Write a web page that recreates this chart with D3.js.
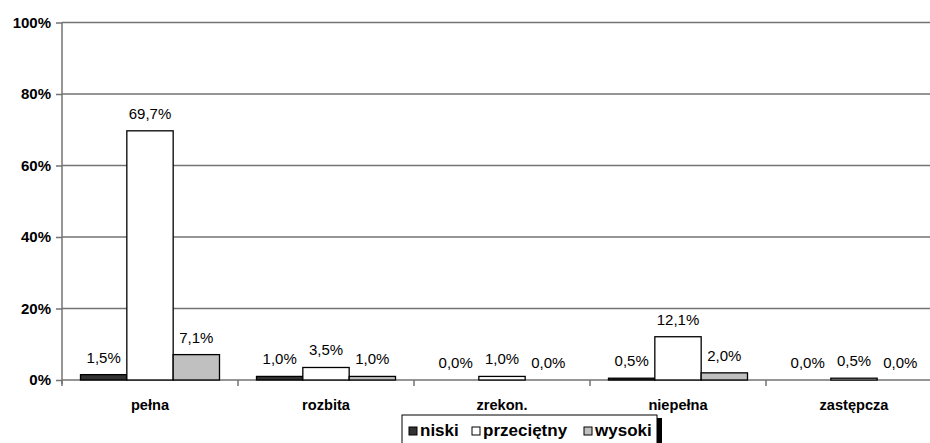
<!DOCTYPE html>
<html><head><meta charset="utf-8">
<script src="https://cdn.jsdelivr.net/npm/d3@7/dist/d3.min.js"></script>
<style>
html,body{margin:0;padding:0;background:#fff;}
svg{display:block;font-family:"Liberation Sans",Arial,sans-serif;}
</style></head>
<body>
<svg id="c" width="930" height="443"></svg>
<script>
const categories = ["pełna", "rozbita", "zrekon.", "niepełna", "zastępcza"];
const seriesNames = ["niski", "przeciętny", "wysoki"];
const niski = [1.5, 1.0, 0.0, 0.5, 0.0];
const przecietny = [69.7, 3.5, 1.0, 12.1, 0.5];
const wysoki = [7.1, 1.0, 0.0, 2.0, 0.0];
const yTicks = [0, 20, 40, 60, 80, 100];

const seriesValues = [niski, przecietny, wysoki];
const colors = ["#333333", "#ffffff", "#c0c0c0"];

const svg = d3.select("#c");
const plotLeft = 62, plotTop = 22.5, plotBottom = 380, bandW = 176;
const x = d3.scaleBand().domain(categories).range([plotLeft, plotLeft + bandW * categories.length]).padding(0);
const xs = d3.scaleBand().domain(seriesNames).range([18.5, bandW - 18.5]).padding(0);
const y = d3.scaleLinear().domain([0, 100]).range([plotBottom, plotTop]);

const loc = d3.formatLocale({decimal: ",", thousands: " ", grouping: [3], currency: ["", " zł"]});
const fmt = loc.format(".1f");

// gridlines
svg.append("g").selectAll("line").data(yTicks).join("line")
  .attr("x1", plotLeft).attr("x2", 930)
  .attr("y1", d => y(d)).attr("y2", d => y(d))
  .attr("stroke", "#737373").attr("stroke-width", 1.5);

// y axis
const yAxis = d3.axisLeft(y).tickValues(yTicks).tickFormat(d => d + "%").tickSize(6).tickPadding(5);
const gy = svg.append("g").attr("transform", `translate(${plotLeft},0)`).call(yAxis);
gy.select(".domain").attr("stroke", "#737373").attr("stroke-width", 1.5).attr("d", `M0,${plotTop}V${plotBottom + 4}`);
gy.selectAll(".tick line").attr("stroke", "#737373").attr("stroke-width", 1.5);
gy.selectAll(".tick text").attr("font-size", 15).attr("font-weight", "bold").attr("fill", "#000")
  .attr("font-family", '"Liberation Sans",Arial,sans-serif');

// x axis ticks (band boundaries)
const boundaries = categories.map(c => x(c)).concat([x(categories[categories.length - 1]) + bandW]);
svg.append("g").selectAll("line").data(boundaries).join("line")
  .attr("x1", d => d).attr("x2", d => d).attr("y1", plotBottom).attr("y2", plotBottom + 6)
  .attr("stroke", "#737373").attr("stroke-width", 1.5);

// category labels
svg.append("g").selectAll("text").data(categories).join("text")
  .attr("x", d => x(d) + bandW / 2).attr("y", 410)
  .attr("text-anchor", "middle").attr("font-size", 14.6).attr("font-weight", "bold")
  .text(d => d);

// bars
const data = [];
categories.forEach((c, i) => seriesNames.forEach((s, j) => data.push({c, s, j, v: seriesValues[j][i]})));

svg.append("g").selectAll("rect").data(data).join("rect")
  .attr("x", d => x(d.c) + xs(d.s))
  .attr("y", d => y(d.v))
  .attr("width", xs.bandwidth())
  .attr("height", d => y(0) - y(d.v))
  .attr("fill", d => colors[d.j])
  .attr("stroke", "#000").attr("stroke-width", 1.3);

// value labels
svg.append("g").selectAll("text").data(data).join("text")
  .attr("x", d => x(d.c) + xs(d.s) + xs.bandwidth() / 2)
  .attr("y", d => y(d.v) - 12)
  .attr("text-anchor", "middle").attr("font-size", 15).attr("fill", "#000")
  .text(d => fmt(d.v) + "%");

// legend
const lg = svg.append("g");
lg.append("rect").attr("x", 657).attr("y", 418).attr("width", 5).attr("height", 40).attr("fill", "#000");
lg.append("rect").attr("x", 402).attr("y", 415).attr("width", 255).attr("height", 40)
  .attr("fill", "#fff").attr("stroke", "#000").attr("stroke-width", 1);
const legX = [409, 472, 584];
const items = lg.selectAll("g.item").data(seriesNames).join("g").attr("class", "item")
  .attr("transform", (d, i) => `translate(${legX[i]},0)`);
items.append("rect").attr("x", 0).attr("y", 427).attr("width", 8).attr("height", 8)
  .attr("fill", (d, i) => colors[i]).attr("stroke", "#000").attr("stroke-width", 1);
items.append("text").attr("x", 11).attr("y", 436).attr("font-size", 17).attr("font-weight", "bold")
  .text(d => d);
</script>
</body></html>
